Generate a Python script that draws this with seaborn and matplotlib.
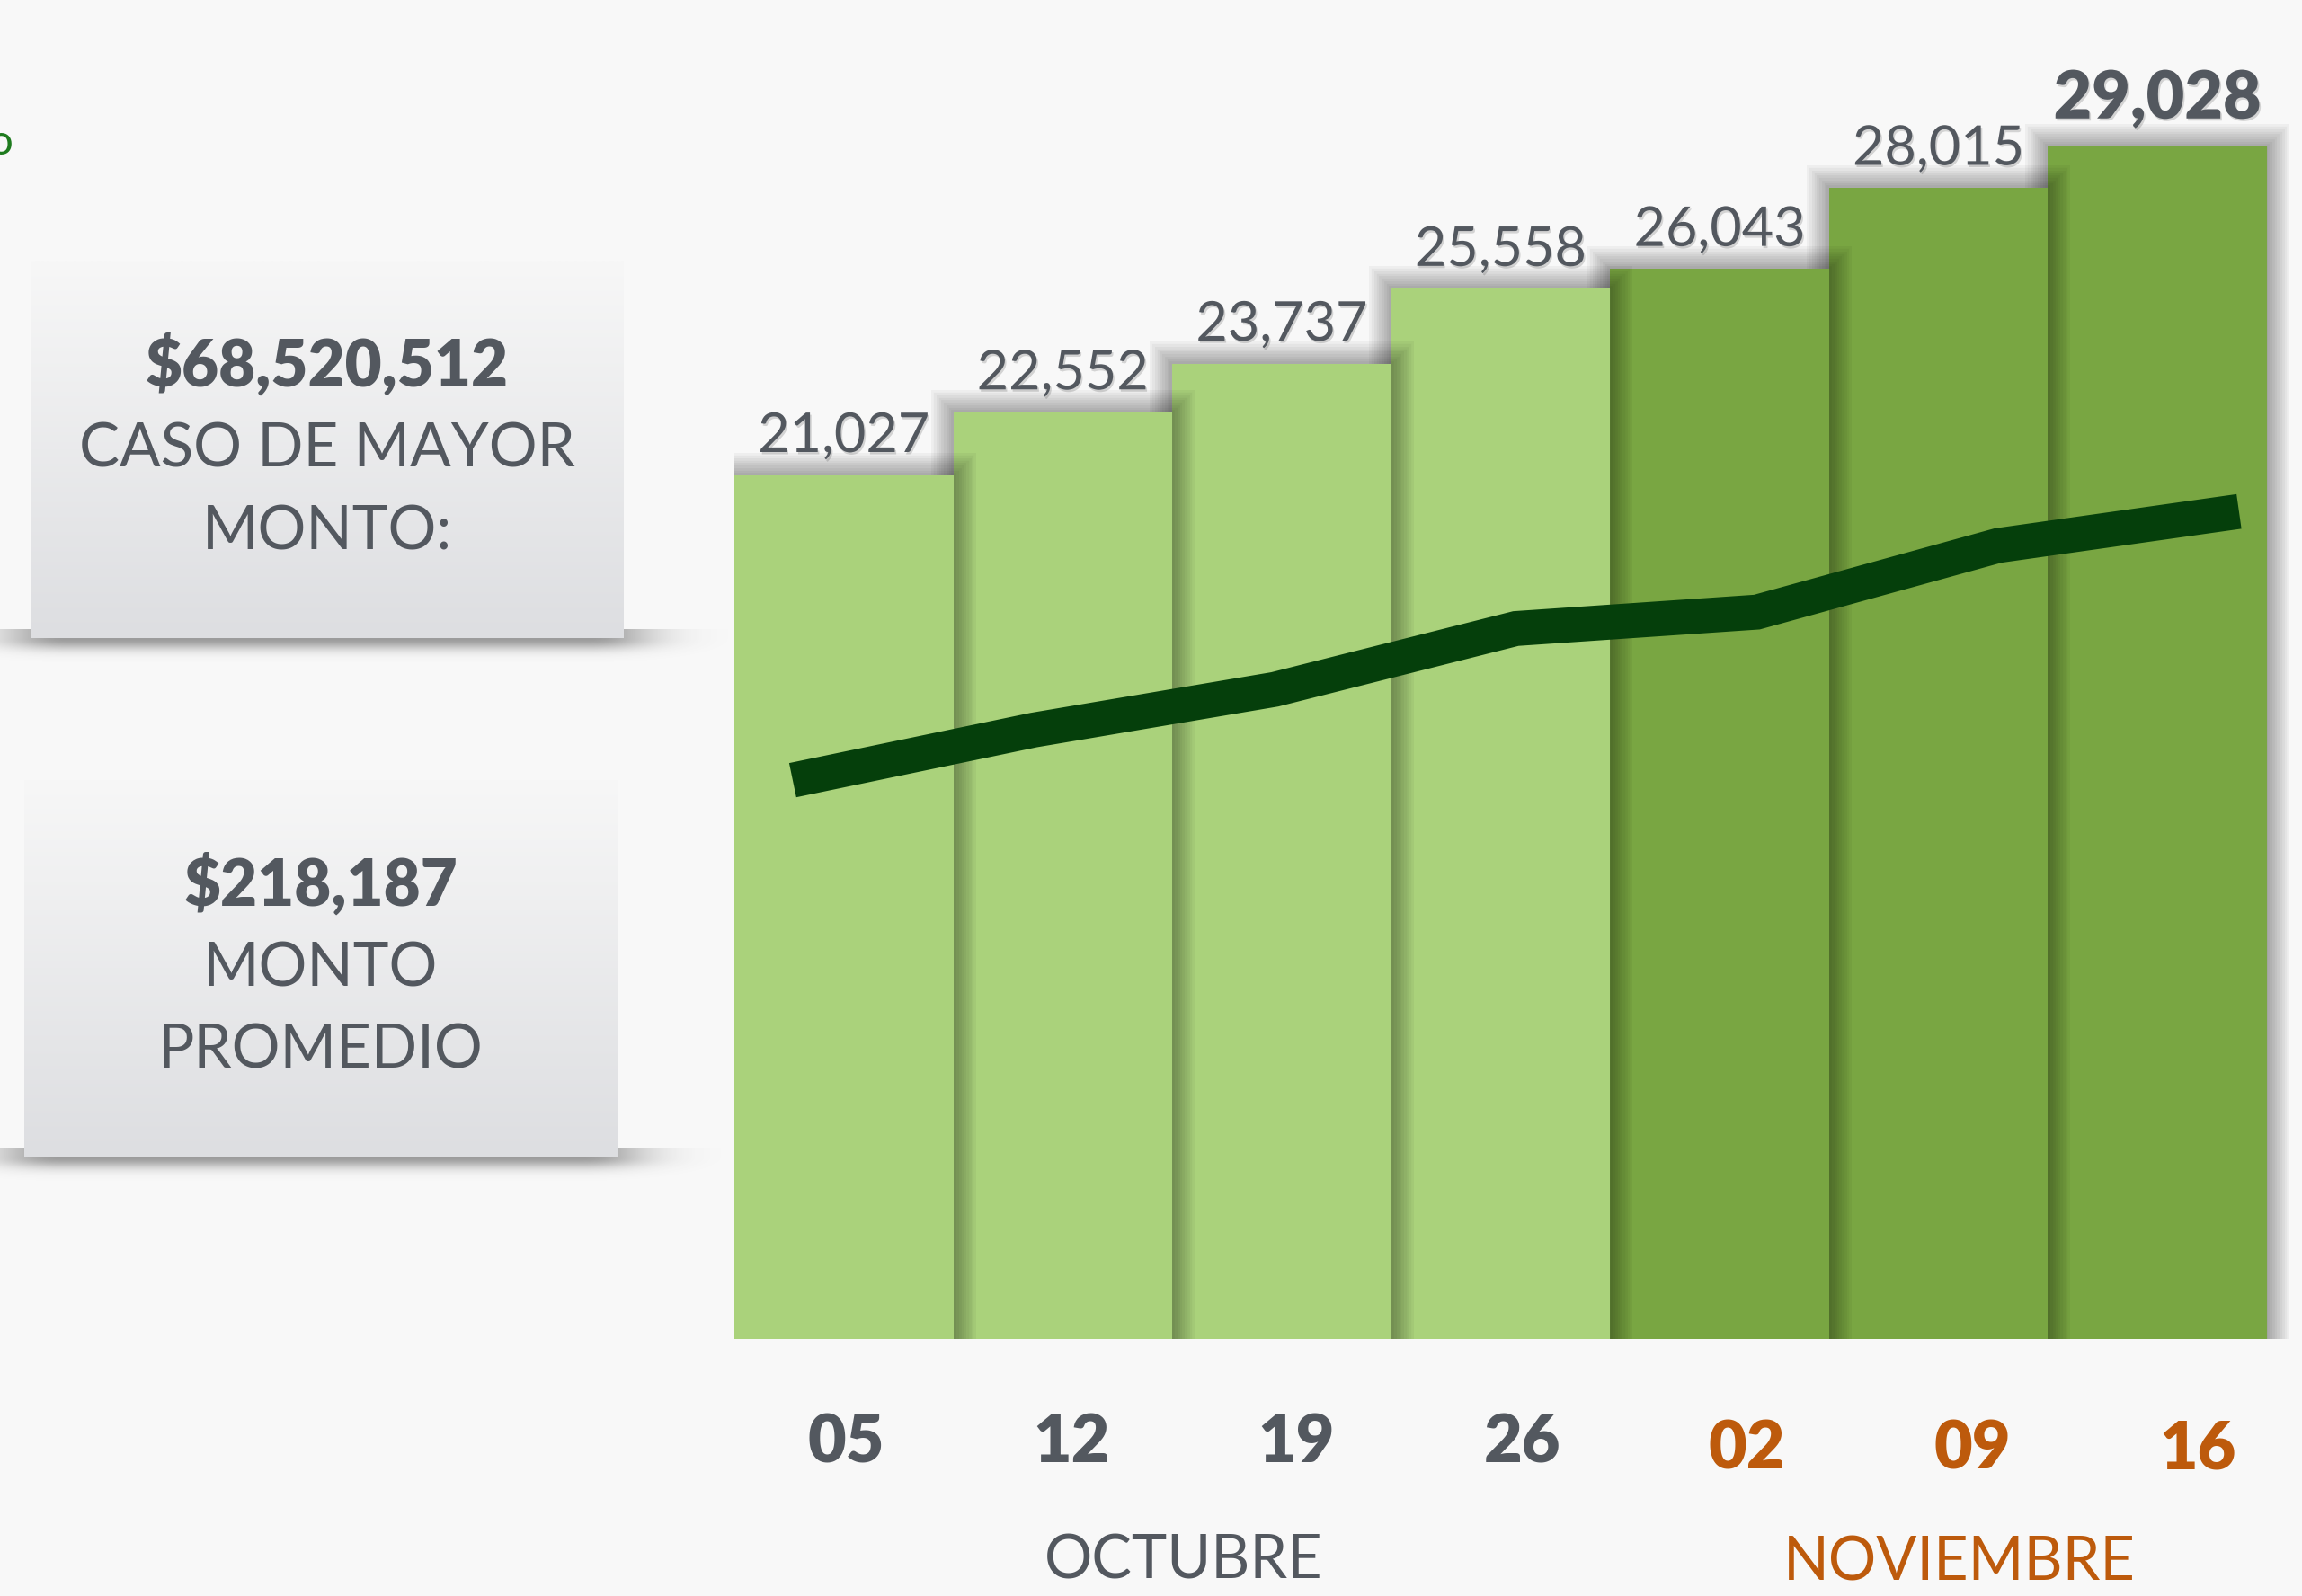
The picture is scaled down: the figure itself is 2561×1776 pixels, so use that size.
import matplotlib
matplotlib.use("Agg")
import matplotlib.pyplot as plt
import matplotlib.patheffects as pe
from matplotlib.patches import Rectangle
import seaborn as sns
import numpy as np
import pandas as pd

# Data
semanas = ["05", "12", "19", "26", "02", "09", "16"]
meses = ["OCTUBRE", "OCTUBRE", "OCTUBRE", "OCTUBRE", "NOVIEMBRE", "NOVIEMBRE", "NOVIEMBRE"]
casos = [21027, 22552, 23737, 25558, 26043, 28015, 29028]
tendencia = [13600, 14820, 15810, 17290, 17690, 19310, 20140]

monto_mayor = "$68,520,512"
monto_promedio = "$218,187"

# Colours
BG = "#f8f8f8"
GRIS = "#53585f"
NARANJA = "#bd5a0c"
VERDE_CLARO = "#aad27b"
VERDE_OSCURO = "#79a642"
VERDE_LINEA = "#053f0b"

sns.set_theme(style="white")
plt.rcParams["font.family"] = ["Lato", "DejaVu Sans"]

W, H = 2561, 1776
fig = plt.figure(figsize=(W / 100, H / 100), dpi=100, facecolor=BG)


def px_axes(x0, y0, x1, y1, **kw):
    # axes from pixel box (top-left origin)
    return fig.add_axes([x0 / W, 1 - y1 / H, (x1 - x0) / W, (y1 - y0) / H], **kw)


# ---- info boxes on the left ----
def info_box(x0, y0, x1, y1, lines):
    # soft shadow under the box
    sx0, sx1 = x0 - 120, x1 + 140
    sh = px_axes(sx0, y1 - 10, sx1, y1 + 40, zorder=-2)
    xs = np.arange(sx1 - sx0) + sx0
    ys = np.arange(50) - 10
    left = np.where(xs < x0 + 40, np.exp(-((xs - x0 - 40) / 70.0) ** 2), 1.0)
    right = np.where(xs > x1 - 40, np.exp(-((xs - x1 + 40) / 70.0) ** 2), 1.0)
    vert = np.exp(-(np.clip(ys, 0, None) / 12.0) ** 2)
    alpha = 0.5 * np.outer(vert, left * right)
    img = np.zeros(alpha.shape + (4,))
    img[..., :3] = 0.25
    img[..., 3] = alpha
    sh.imshow(img, aspect="auto", interpolation="bilinear")
    sh.axis("off")

    # gradient face
    bx = px_axes(x0, y0, x1, y1, zorder=-1)
    top = np.array([247, 247, 247]) / 255
    bot = np.array([221, 222, 225]) / 255
    t = np.linspace(0, 1, 200)[:, None]
    grad = (top * (1 - t) + bot * t)[:, None, :]
    bx.imshow(grad, aspect="auto", interpolation="bilinear")
    bx.axis("off")

    cx = (x0 + x1) / 2
    for text, base, size, weight in lines:
        fig.text(cx / W, 1 - base / H, text, ha="center", va="baseline",
                 fontsize=size, fontweight=weight, color=GRIS)


info_box(34, 290, 694, 710, [
    (monto_mayor, 430, 51, "heavy"),
    ("CASO DE MAYOR", 520, 48.5, "normal"),
    ("MONTO:", 611, 48.5, "normal"),
])
info_box(27, 868, 687, 1287, [
    (monto_promedio, 1008, 51, "heavy"),
    ("MONTO", 1098, 48.5, "normal"),
    ("PROMEDIO", 1188, 48.5, "normal"),
])

# cut-off letter at top-left corner (also cut in the original slide)
fig.text(1 / W, 1 - 172 / H, "o", ha="center", va="baseline", fontsize=34, color="#1e7b1e")

# ---- bars ----
df = pd.DataFrame({"semana": semanas, "mes": meses, "casos": casos})
ax = px_axes(817, 100, 2522, 1490)
ax.set_facecolor("none")
sns.barplot(data=df, x="semana", y="casos", hue="mes",
            palette={"OCTUBRE": VERDE_CLARO, "NOVIEMBRE": VERDE_OSCURO},
            dodge=False, width=1.0, saturation=1, legend=False, ax=ax)
ax.set_xlim(-0.5, len(semanas) - 0.5)
ax.set_ylim(0, 30400)

bars = sorted([p for p in ax.patches if p.get_height() > 0], key=lambda p: p.get_x())
halo = [pe.Stroke(linewidth=w, foreground="black", alpha=0.04) for w in range(36, 2, -4)]
clip = Rectangle((0, 0), 1.03, 1.0, transform=ax.transAxes)
for i, p in enumerate(bars):
    p.set_zorder(10 - i)
    p.set_linewidth(0)
    p.set_clip_path(clip)
    p.set_path_effects(halo + [pe.Normal()])

# value labels
for i, (p, v) in enumerate(zip(bars, casos)):
    last = i == len(bars) - 1
    ax.annotate(f"{v:,}", (p.get_x() + p.get_width() / 2, p.get_height()),
                xytext=(0, 22.3 if last else 18.4), textcoords="offset points",
                ha="center", va="baseline", fontsize=53 if last else 44,
                fontweight="heavy" if last else "normal", color=GRIS, zorder=20,
                path_effects=[pe.withSimplePatchShadow(offset=(1.2, -1.8),
                                                       shadow_rgbFace="black", alpha=0.15)])

ax.set_xticks([])
ax.set_yticks([])
ax.set_xlabel("")
ax.set_ylabel("")
sns.despine(ax=ax, left=True, bottom=True)

# ---- week labels: own evenly spaced scale under the bars ----
ax3 = px_axes(817, 100, 2522, 1490, zorder=4)
ax3.set_facecolor("none")
ax3.set_xlim(-0.495, 6.307)
ax3.axis("off")
for i, (sem, mes) in enumerate(zip(semanas, meses)):
    nov = mes != "OCTUBRE"
    ax3.text(i, -0.104 if nov else -0.0986, sem, transform=ax3.get_xaxis_transform(),
             ha="center", va="baseline", fontsize=53, fontweight="heavy",
             color=NARANJA if nov else GRIS)

# month labels
ax.text(1.55, -0.1914, "OCTUBRE", transform=ax.get_xaxis_transform(),
        ha="center", va="baseline", fontsize=48, color=GRIS)
ax.text(5.095, -0.1935, "NOVIEMBRE", transform=ax.get_xaxis_transform(),
        ha="center", va="baseline", fontsize=48, color=NARANJA)

# ---- trend line (own x scale, same y scale) ----
ax2 = px_axes(817, 100, 2522, 1490, zorder=5)
ax2.set_facecolor("none")
sns.lineplot(x=np.arange(len(tendencia)), y=tendencia, color=VERDE_LINEA,
             linewidth=28, ax=ax2)
for ln in ax2.lines:
    ln.set_solid_capstyle("butt")
    ln.set_solid_joinstyle("miter")
ax2.set_xlim(-0.242, 6.116)
ax2.set_ylim(0, 30400)
ax2.axis("off")

fig.savefig("out.png", dpi=100, facecolor=BG)
